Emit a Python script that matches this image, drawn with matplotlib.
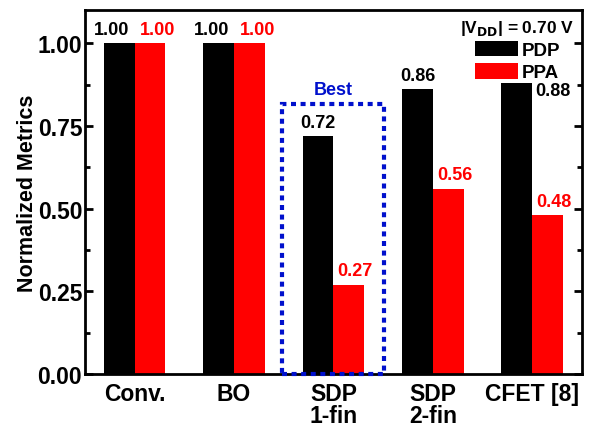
import numpy as np
import matplotlib.pyplot as plt
from matplotlib.patches import Rectangle
from matplotlib.ticker import MultipleLocator

plt.rcParams['font.family'] = ['Liberation Sans', 'DejaVu Sans']
plt.rcParams['font.weight'] = 'bold'

# data
designs = ['Conv.', 'BO', 'SDP\n1-fin', 'SDP\n2-fin', 'CFET [8]']
pdp = [1.00, 1.00, 0.72, 0.86, 0.88]
ppa = [1.00, 1.00, 0.27, 0.56, 0.48]
pdp_labels = ['1.00', '1.00', '0.72', '0.86', '0.88']
ppa_labels = ['1.00', '1.00', '0.27', '0.56', '0.48']

x = np.arange(len(designs))
w = 0.31

fig = plt.figure(figsize=(5.89, 4.27), dpi=100)
ax = fig.add_axes([0.1443, 0.1218, 0.8437, 0.8522])

ax.bar(x - w/2, pdp, w, color='black', label='PDP')
ax.bar(x + w/2, ppa, w, color='#ff0000', label='PPA')

# value labels (first two groups pushed apart so they don't collide)
dx_pdp = [-0.08, -0.075, 0, 0, 0]
dx_ppa = [0.08, 0.08, 0.065, 0.07, 0.06]
for i in range(len(x)):
    if i == 4:
        ax.text(x[i] + 0.035, pdp[i] - 0.022, pdp_labels[i], ha='left', va='center',
                fontsize=13, fontweight='bold', color='black')
    else:
        ax.text(x[i] - w/2 + dx_pdp[i], pdp[i] + 0.016, pdp_labels[i], ha='center',
                va='bottom', fontsize=13, fontweight='bold', color='black')
    ax.text(x[i] + w/2 + dx_ppa[i], ppa[i] + 0.016, ppa_labels[i],
            ha='center', va='bottom', fontsize=13, fontweight='bold', color='#ff0000')

# highlight box around the best design
ax.add_patch(Rectangle((1.48, 0), 1.03, 0.817, fill=False, edgecolor='#0010cc',
                       linewidth=3, linestyle=(0, (1.2, 1.1)), clip_on=False, zorder=3))
ax.text(2.0, 0.835, 'Best', ha='center', va='bottom', fontsize=13,
        fontweight='bold', color='#0010cc')

ax.set_xlim(-0.5, 4.5)
ax.set_ylim(0, 1.1)
ax.set_xticks(x)
ax.set_xticklabels(designs, fontsize=16.5, fontweight='bold', linespacing=0.95,
                   va='top')
ax.yaxis.set_major_locator(MultipleLocator(0.25))
ax.yaxis.set_minor_locator(MultipleLocator(0.125))
ax.set_yticks([0, 0.25, 0.5, 0.75, 1.0])
ax.set_yticklabels(['0.00', '0.25', '0.50', '0.75', '1.00'], fontsize=16.5, fontweight='bold')
ax.tick_params(axis='x', length=0, pad=6)
ax.tick_params(axis='y', which='major', direction='in', length=6, width=2, right=True, pad=2)
ax.tick_params(axis='y', which='minor', direction='in', length=3.5, width=2, right=True)
ax.set_ylabel('Normalized Metrics', fontsize=15.5, fontweight='bold', labelpad=0)
for s in ax.spines.values():
    s.set_linewidth(2)

leg = ax.legend(loc='upper right', title=r'|V$_{\mathbf{DD}}$| = 0.70 V', frameon=False,
                fontsize=13.5, title_fontsize=12.5, handlelength=2.3, handleheight=0.9,
                handletextpad=0.2, borderaxespad=0.0, borderpad=0.4, labelspacing=0.22)
leg.get_title().set_fontweight('bold')

fig.savefig('out.png', dpi=100)
